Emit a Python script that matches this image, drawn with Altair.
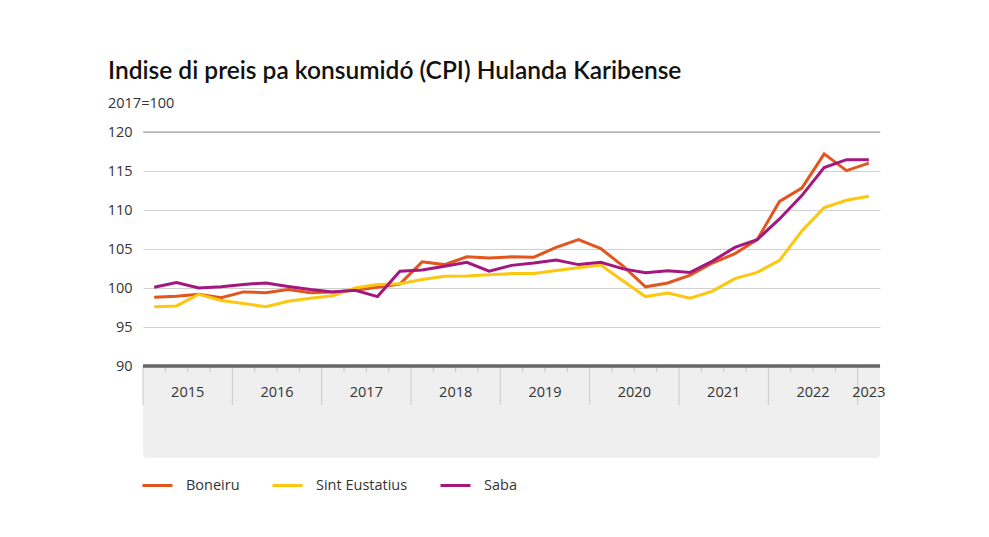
import altair as alt
import pandas as pd

# Quarterly CPI, 2015 Q1 .. 2023 Q1 (2017=100)
years = [2015, 2016, 2017, 2018, 2019, 2020, 2021, 2022, 2023]
boneiru = [98.8, 98.95, 99.2, 98.75, 99.5, 99.4, 99.8, 99.4, 99.5, 99.7, 100.1, 100.5,
           103.35, 103.0, 104.0, 103.85, 104.0, 103.95, 105.2, 106.2, 105.05, 102.8,
           100.15, 100.65, 101.65, 103.2, 104.4, 106.2, 111.1, 112.8, 117.2, 115.05, 116.0]
sint_eustatius = [97.6, 97.7, 99.2, 98.4, 98.0, 97.6, 98.3, 98.7, 99.0, 100.0, 100.45, 100.55,
                  101.1, 101.5, 101.55, 101.7, 101.85, 101.85, 102.25, 102.6, 102.95, 100.9,
                  98.9, 99.35, 98.7, 99.6, 101.2, 102.0, 103.55, 107.3, 110.3, 111.25, 111.75]
saba = [100.1, 100.7, 100.0, 100.15, 100.45, 100.65, 100.2, 99.8, 99.5, 99.7, 98.9, 102.15,
        102.3, 102.8, 103.3, 102.15, 102.9, 103.2, 103.6, 103.0, 103.3, 102.45,
        101.95, 102.2, 102.0, 103.45, 105.2, 106.2, 108.85, 111.85, 115.45, 116.45, 116.45]
series_names = ["Boneiru", "Sint Eustatius", "Saba"]
series_colors = ["#e2561d", "#fcc70e", "#a3177f"]
y_ticks = [90, 95, 100, 105, 110, 115, 120]

n = len(boneiru)
rows = []
for name, vals in zip(series_names, [boneiru, sint_eustatius, saba]):
    for i, v in enumerate(vals):
        rows.append({"t": i + 0.5, "value": v, "serie": name})
df = pd.DataFrame(rows)

W, H = 737, 234
xs = alt.Scale(domain=[0, n], nice=False, zero=False)
ys = alt.Scale(domain=[90, 120], nice=False, zero=False)
y_axis = alt.Axis(values=y_ticks, grid=True, gridColor="#d0d0d0", gridWidth=1.2, domain=False,
                  ticks=False, labelPadding=11, labelFontSize=14.5, labelColor="#333333",
                  labelFont="Open Sans", title=None)

band = alt.Chart(pd.DataFrame({"a": [0]})).mark_rect(
    color="#efefef", cornerRadiusBottomLeft=4, cornerRadiusBottomRight=4
).encode(x=alt.value(0), x2=alt.value(W), y=alt.value(H), y2=alt.value(H + 92))

year_bounds = pd.DataFrame({"b": [4 * k for k in range(len(years))]})
year_lines = alt.Chart(year_bounds).mark_rule(color="#c9c9c9", strokeWidth=1).encode(
    x=alt.X("b:Q", scale=xs, axis=None), y=alt.value(H), y2=alt.value(H + 39))

q_bounds = pd.DataFrame({"b": [q for q in range(1, n) if q % 4 != 0]})
q_ticks = alt.Chart(q_bounds).mark_rule(color="#c4c4c4", strokeWidth=1).encode(
    x=alt.X("b:Q", scale=xs, axis=None), y=alt.value(H), y2=alt.value(H + 6))

mids = []
for k, y in enumerate(years):
    end = min(4 * k + 4, n)
    mids.append({"m": (4 * k + end) / 2, "year": str(y)})
year_labels = alt.Chart(pd.DataFrame(mids)).mark_text(
    fontSize=14.5, color="#333333", font="Open Sans", baseline="middle"
).encode(x=alt.X("m:Q", scale=xs, axis=None), y=alt.value(H + 27), text="year:N")

lines = alt.Chart(df).mark_line(strokeWidth=3, strokeJoin="miter").encode(
    x=alt.X("t:Q", scale=xs, axis=None),
    y=alt.Y("value:Q", scale=ys, axis=y_axis),
    color=alt.Color("serie:N", sort=series_names,
                    scale=alt.Scale(domain=series_names, range=series_colors),
                    legend=alt.Legend(orient="none", legendX=-2, legendY=337, direction="horizontal",
                                      title=None, symbolType="stroke", symbolSize=900,
                                      symbolStrokeWidth=3, labelFontSize=14.5, labelFont="Open Sans",
                                      labelColor="#333333", labelOffset=12, columnPadding=26)),
    order=alt.Order("t:Q"),
)

top_rule = alt.Chart(pd.DataFrame({"v": [120]})).mark_rule(color="#9a9a9a", strokeWidth=1.2).encode(
    y=alt.Y("v:Q", scale=ys, axis=y_axis), x=alt.value(0), x2=alt.value(W))

axis_line = alt.Chart(pd.DataFrame({"v": [90]})).mark_rule(color="#666666", strokeWidth=3.5).encode(
    y=alt.Y("v:Q", scale=ys, axis=y_axis), x=alt.value(0), x2=alt.value(W))

chart = alt.layer(band, lines, top_rule, year_lines, q_ticks, year_labels, axis_line).properties(
    width=W, height=H,
    autosize=alt.AutoSizeParams(type="none"),
    padding={"left": 135, "top": 124, "right": 90, "bottom": 150},
    title=alt.TitleParams(
        "Indise di preis pa konsumidó (CPI) Hulanda Karibense",
        subtitle="2017=100", anchor="start", frame="group", dx=-35, offset=13,
        font="Lato", fontSize=24.5, fontWeight=600, color="#111111",
        subtitleFont="Open Sans", subtitleFontSize=14.5, subtitleColor="#333333", subtitlePadding=12,
    ),
).configure(background="white").configure_view(stroke=None)

chart.save("out.html", embed_options={"renderer": "svg", "actions": False})
